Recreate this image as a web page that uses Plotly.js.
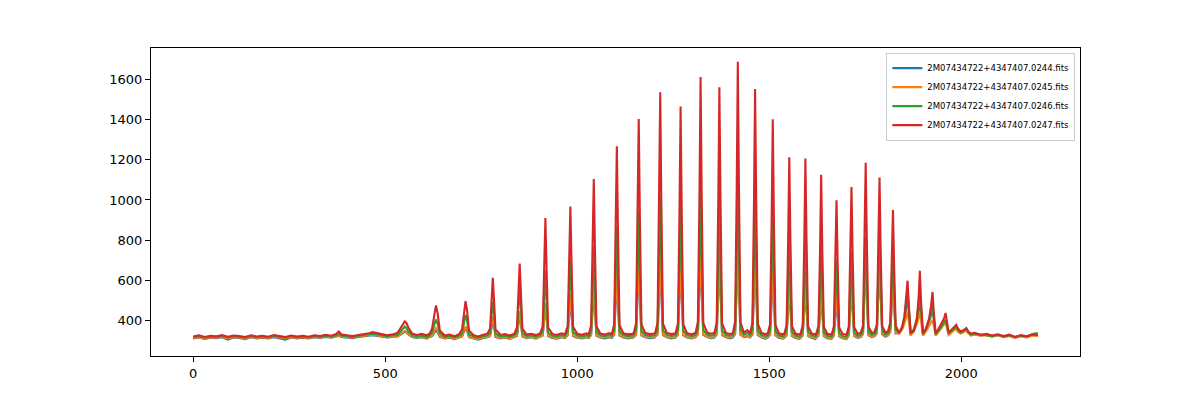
<!DOCTYPE html>
<html>
<head>
<meta charset="utf-8">
<script src="https://cdn.plot.ly/plotly-3.0.1.min.js"></script>
<style>html,body{margin:0;padding:0;background:#fff;}#chart{width:1200px;height:400px;}</style>
</head>
<body>
<div id="chart"></div>
<script>
// Pixel index (shared x grid for all four spectra)
var pixel = [
  0,15,30,45,60,75,90,105,120,135,150,165,180,195,210,225,240,255,270,285,300,315,330,345,360,372,379,386,400,415,430,445,458,467,476,490,505,520,
  532,542,547,551,555,560,570,
  582,595,608,616,
  622,628,632,636,642,
  655,668,680,692,
  700,705,709,713,718,
  730,742,755,766,
  773,777,780,783,787,
  800,812,824,836,
  843,847,850,853,857,
  868,880,892,903,
  910,914,917,920,924,
  935,947,959,968,
  975,979,982,985,989,
  1000,1012,1024,1030,
  1036,1040,1043,1046,1050,
  1060,1072,1084,1090,
  1096,1100,1103,1106,1110,
  1120,1132,1144,1147,
  1153,1157,1160,1163,1167,
  1177,1189,1200,1203,
  1209,1213,1216,1219,1223,
  1233,1245,1256,
  1262,1266,1269,1272,1276,
  1286,1298,1308,
  1314,1318,1321,1324,1328,
  1338,1348,1357,
  1363,1367,1370,1373,1377,
  1387,1397,1405,
  1411,1415,1418,1421,1425,
  1434,1443,1450,
  1456,1460,1463,1466,1470,
  1480,1490,1496,
  1502,1506,1509,1512,1516,
  1525,1535,1539,
  1545,1549,1552,1555,1559,
  1568,1578,1581,
  1587,1591,1594,1597,1601,
  1610,1620,1622,
  1628,1632,1635,1638,1642,
  1651,1662,
  1668,1672,1675,1678,1682,
  1691,1701,
  1707,1711,1714,1717,1721,
  1730,1738,
  1744,1748,1751,1754,1758,
  1767,1774,
  1780,1784,1787,1790,1794,
  1802,1809,
  1815,1819,1822,1825,1829,
  1838,1846,1852,1856,1860,1863,1868,1876,1884,1889,1892,1895,1900,1908,1916,1921,1925,1928,1933,1941,1950,1955,1959,1962,1967,1975,1983,1987,1991,1998,2006,2013,2018,2025,
  2035,2050,2065,2080,2095,2110,2125,2140,2155,2170,2185,2199
];

var names = [
  "2M07434722+4347407.0244.fits",
  "2M07434722+4347407.0245.fits",
  "2M07434722+4347407.0246.fits",
  "2M07434722+4347407.0247.fits"
];

var flux0244 = [
  310,315,308,314,312,316,305,315,313,307,316,311,314,310,317,312,304,315,311,314,310,316,313,318,314,320,324,318,315,312,318,321,324,327,324,318,315,319,
  320,332,340,344,340,330,318,
  313,316,310,318,
  322,340,350,342,318,
  310,314,307,315,
  320,345,360,348,317,
  310,305,313,316,
  322,370,400,375,318,
  311,315,308,316,
  323,385,425,390,320,
  312,316,309,317,
  325,405,470,410,322,
  313,309,316,312,
  326,420,505,425,323,
  314,310,316,312,
  327,440,550,445,324,
  315,311,317,313,
  328,470,610,475,325,
  315,311,314,317,
  329,500,670,505,326,
  316,312,314,318,
  330,525,715,530,327,
  316,311,315,
  329,510,690,515,326,
  315,310,317,
  331,540,745,545,328,
  317,312,315,
  330,530,730,535,327,
  316,311,315,
  332,555,775,560,329,
  317,322,315,
  330,528,725,532,327,
  315,310,314,
  328,495,668,500,325,
  314,309,313,
  326,452,585,456,323,
  313,308,312,
  326,450,582,454,323,
  314,308,312,
  325,432,555,436,322,
  312,308,
  324,410,520,414,321,
  311,307,
  325,440,580,445,322,
  313,317,
  332,520,700,525,327,
  317,322,
  336,515,690,520,331,
  319,325,
  342,475,595,480,335,
  336,362,400,450,530,450,328,350,395,450,510,440,328,350,390,425,460,405,328,347,370,385,398,375,330,345,358,364,348,337,344,354,338,327,
  332,326,329,320,327,318,324,315,323,317,327,330
];

var flux0245 = [
  312,317,310,316,314,318,311,317,315,309,318,313,316,312,319,314,310,317,313,316,312,318,315,320,316,322,326,320,317,314,320,323,326,329,326,320,317,321,
  322,335,342,348,342,332,320,
  315,318,312,320,
  325,348,362,350,322,
  312,316,309,317,
  322,352,370,355,320,
  312,308,315,318,
  325,385,420,390,322,
  313,317,311,318,
  326,400,445,405,324,
  314,318,312,319,
  328,420,488,425,325,
  316,312,319,315,
  329,440,530,445,326,
  317,313,319,315,
  330,460,580,465,327,
  318,314,320,316,
  331,490,640,495,328,
  318,314,317,320,
  332,520,700,525,329,
  319,315,317,321,
  333,545,750,550,330,
  319,314,318,
  332,530,725,535,329,
  318,313,320,
  334,560,780,565,331,
  320,315,318,
  333,550,765,555,330,
  319,314,318,
  335,575,810,580,332,
  320,326,318,
  333,548,760,552,330,
  318,313,317,
  331,515,700,520,328,
  317,312,316,
  329,470,615,475,326,
  316,311,315,
  329,468,612,472,326,
  317,311,315,
  328,450,585,455,325,
  315,311,
  327,425,545,430,324,
  314,310,
  328,450,600,455,325,
  316,320,
  335,540,727,545,330,
  320,325,
  340,530,700,535,335,
  322,328,
  345,480,603,485,338,
  335,355,385,415,445,400,325,345,380,415,443,400,325,345,370,390,403,375,325,345,365,380,394,370,328,342,355,360,345,335,342,350,336,325,
  330,324,327,319,326,317,323,313,322,315,325,322
];

var flux0246 = [
  316,321,314,320,318,323,315,322,319,314,322,317,320,316,323,318,314,321,317,320,316,322,319,324,320,326,332,325,321,318,324,327,330,334,331,325,322,326,
  328,350,362,370,362,345,326,
  320,324,318,326,
  340,380,405,385,335,
  318,323,316,324,
  335,395,428,400,332,
  319,314,322,326,
  338,430,494,440,335,
  320,324,318,326,
  340,470,569,475,338,
  322,326,319,327,
  345,500,650,505,340,
  324,320,327,323,
  346,530,702,535,342,
  325,321,327,323,
  348,560,770,565,344,
  326,322,328,324,
  350,610,870,615,346,
  327,322,325,329,
  352,650,950,655,348,
  328,323,326,330,
  355,690,1020,695,350,
  328,323,327,
  353,665,980,670,349,
  327,322,329,
  356,710,1060,715,352,
  330,324,328,
  355,695,1030,700,351,
  328,323,327,
  358,735,1110,740,353,
  330,338,327,
  354,690,1025,695,350,
  327,322,326,
  350,640,935,645,346,
  326,321,325,
  347,580,820,585,343,
  325,320,324,
  347,578,815,583,343,
  326,320,324,
  345,550,770,555,341,
  324,320,
  342,515,700,520,338,
  323,319,
  344,540,740,545,340,
  324,328,
  350,590,817,595,345,
  328,332,
  355,610,861,620,350,
  330,335,
  365,560,737,565,355,
  340,370,420,480,552,470,335,355,410,480,537,460,332,355,400,440,478,420,332,350,375,390,403,380,335,350,362,368,352,340,348,358,342,330,
  335,330,327,322,329,320,326,318,324,320,332,338
];

var flux0247 = [
  320,326,318,324,321,327,319,325,322,318,326,320,324,319,327,321,318,325,320,323,319,326,322,328,324,333,345,330,326,322,328,331,336,342,338,329,326,331,
  338,368,385,395,388,365,335,
  328,333,326,335,
  360,430,475,440,350,
  325,330,322,331,
  355,440,496,450,350,
  326,320,329,334,
  360,500,612,510,355,
  328,332,325,334,
  365,540,683,550,360,
  330,334,327,335,
  370,650,910,660,365,
  333,328,336,331,
  372,680,968,690,368,
  334,329,336,331,
  375,750,1104,760,370,
  335,330,337,332,
  380,830,1268,840,375,
  336,331,334,338,
  385,900,1403,910,380,
  337,332,335,339,
  390,960,1537,970,385,
  338,332,336,
  385,920,1465,930,380,
  336,331,338,
  392,1000,1612,1010,388,
  340,334,337,
  390,975,1562,985,386,
  338,333,336,
  395,1040,1688,1050,390,
  340,352,336,
  388,970,1553,980,384,
  337,332,335,
  383,890,1402,900,378,
  336,331,334,
  376,790,1213,800,372,
  335,330,333,
  375,785,1206,795,371,
  336,330,333,
  372,740,1125,750,368,
  334,330,
  368,675,999,685,364,
  333,329,
  370,710,1065,720,366,
  334,338,
  375,780,1186,790,370,
  338,342,
  378,740,1112,750,372,
  340,345,
  390,660,950,670,375,
  338,365,420,500,598,480,340,345,400,520,648,500,338,360,410,470,542,450,335,360,390,410,437,400,340,355,370,378,360,345,352,362,345,335,
  338,328,333,325,331,322,329,318,327,321,330,326
];

var series = [flux0244, flux0245, flux0246, flux0247];
var colors = ["#1f77b4", "#ff7f0e", "#2ca02c", "#d62728"];

var traces = series.map(function (ys, i) {
  return {
    x: pixel,
    y: ys,
    type: "scatter",
    mode: "lines",
    name: names[i],
    line: { color: colors[i], width: 2.1 }
  };
});

var axisCommon = {
  showline: true,
  linecolor: "#000",
  linewidth: 1,
  mirror: true,
  ticks: "outside",
  ticklen: 5,
  tickwidth: 1,
  tickcolor: "#000",
  showgrid: false,
  zeroline: false,
  tickfont: { family: "DejaVu Sans", size: 13, color: "#000" }
};

var layout = {
  width: 1200,
  height: 400,
  paper_bgcolor: "#fff",
  plot_bgcolor: "#fff",
  margin: { l: 151, r: 120, t: 48, b: 44 },
  showlegend: true,
  legend: {
    x: 0.995, xanchor: "right",
    y: 0.985, yanchor: "top",
    bgcolor: "rgba(255,255,255,0.8)",
    bordercolor: "#cccccc",
    borderwidth: 1,
    font: { family: "DejaVu Sans", size: 8.5, color: "#000" },
    tracegroupgap: 0,
    itemwidth: 30
  },
  xaxis: Object.assign({}, axisCommon, {
    range: [-110, 2309],
    tickvals: [0, 500, 1000, 1500, 2000],
    ticktext: ["0", "500", "1000", "1500", "2000"]
  }),
  yaxis: Object.assign({}, axisCommon, {
    range: [223, 1757],
    tickvals: [400, 600, 800, 1000, 1200, 1400, 1600],
    ticktext: ["400", "600", "800", "1000", "1200", "1400", "1600"]
  })
};

Plotly.newPlot("chart", traces, layout, { displayModeBar: false, staticPlot: true });
</script>
</body>
</html>
